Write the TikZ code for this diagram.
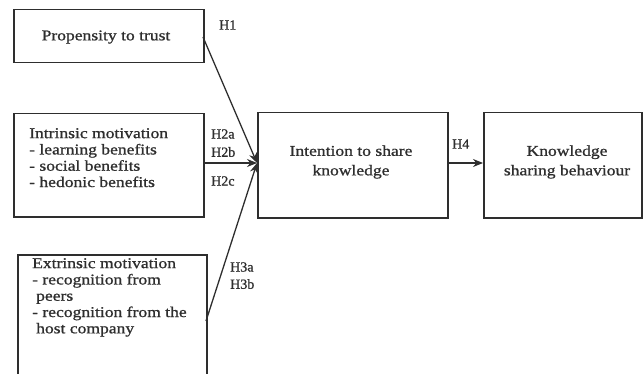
\documentclass[tikz,border=0pt]{standalone}
\usepackage{fontspec}
\setmainfont{Liberation Serif}
\newfontfamily\wideserif[FakeStretch=1.17,FakeBold=1]{Liberation Serif}
\newfontfamily\labserif[FakeBold=1]{Liberation Serif}
\usetikzlibrary{arrows.meta}
\definecolor{ink}{HTML}{2E2E2E}
\tikzset{
  box/.style={draw=ink, line width=1.5pt, inner sep=0pt},
  txt/.style={text=ink, font=\wideserif\fontsize{15}{16.3}\selectfont, inner sep=0pt},
  txtc/.style={text=ink, font=\wideserif\fontsize{15}{19.5}\selectfont, inner sep=0pt, align=center},
  hlab/.style={text=ink, font=\labserif\fontsize{14}{16}\selectfont, inner sep=0pt, anchor=west},
  conn/.style={draw=ink, line width=1.3pt, -{Stealth[length=10pt,width=8pt]}}
}
\begin{document}
\begin{tikzpicture}[x=1pt,y=1pt]
\useasboundingbox (0,0) rectangle (644,-374);
\clip (0,0) rectangle (644,-374);
% boxes
\node[box, minimum width=190pt, minimum height=53pt, anchor=north west] (b1) at (13,-9) {};
\node[box, minimum width=190pt, minimum height=103pt, anchor=north west] (b2) at (13,-113) {};
\node[box, minimum width=189pt, minimum height=140pt, anchor=north west] (b3) at (17,-254) {};
\node[box, minimum width=190pt, minimum height=105pt, anchor=north west] (b4) at (257,-112) {};
\node[box, minimum width=158pt, minimum height=105pt, anchor=north west] (b5) at (483,-112) {};
% texts
\node[txt] (t1) at (106,-37) {Propensity to trust};
\node[txt, align=left, anchor=north west] (t2) at (29,-128) {Intrinsic motivation\\- learning benefits\\- social benefits\\- hedonic benefits};
\node[txt, align=left, anchor=north west] (t3) at (32,-258) {Extrinsic motivation\\- recognition from\\\hspace*{4pt}peers\\- recognition from the\\\hspace*{4pt}host company};
\node[txtc] (t4) at (351,-162) {Intention to share\\knowledge};
\node[txtc] (t5) at (567,-162) {Knowledge\\sharing behaviour};
% connectors
\coordinate (tgt) at (257,-163);
\coordinate (s1) at (203,-37);
\coordinate (s3) at (206,-321);
\draw[conn] (s1) -- (tgt);
\draw[conn] (b2.east |- tgt) -- (tgt);
\draw[conn] (s3) -- (tgt);
\draw[conn] (b4.east |- 0,-163) -- (b5.west |- 0,-163);
% labels
\node[hlab] (h1) at (219,-25) {H1};
\node[hlab] (h2a) at (211,-134) {H2a};
\node[hlab] (h2b) at (211,-152) {H2b};
\node[hlab] (h2c) at (211,-181) {H2c};
\node[hlab] (h3a) at (230,-267) {H3a};
\node[hlab] (h3b) at (230,-284) {H3b};
\node[hlab] (h4) at (452,-144) {H4};
\end{tikzpicture}
\end{document}
